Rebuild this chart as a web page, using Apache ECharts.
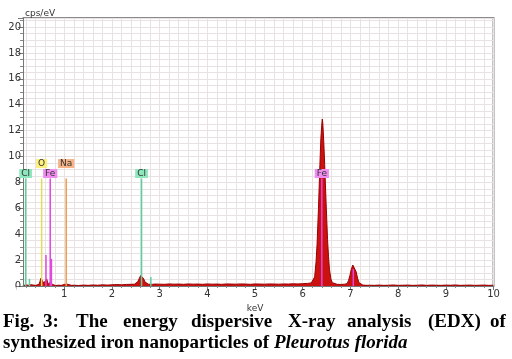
<!DOCTYPE html>
<html>
<head>
<meta charset="utf-8">
<script src="https://cdn.jsdelivr.net/npm/echarts@6/dist/echarts.min.js"></script>
<style>
html,body{margin:0;padding:0;background:#fff;}
#chart{width:512px;height:359px;}
</style>
</head>
<body>
<div id="chart"></div>
<script>
// Spectrum: [energy keV, counts cps/eV]
const spectrum = [
  [0.15,0.05],[0.20,0.08],[0.25,0.06],[0.30,0.10],[0.35,0.07],[0.40,0.05],[0.44,0.06],
  [0.47,0.12],[0.49,0.35],[0.51,0.60],[0.53,0.68],[0.55,0.50],[0.57,0.22],[0.59,0.10],
  [0.61,0.30],[0.63,0.55],[0.65,0.30],[0.67,0.12],[0.69,0.20],[0.71,0.32],[0.73,0.28],
  [0.75,0.12],[0.78,0.06],[0.82,0.04],[0.88,0.06],[0.94,0.05],[1.00,0.12],[1.03,0.17],
  [1.06,0.14],[1.10,0.08],[1.15,0.05],[1.20,0.06],[1.30,0.04],[1.40,0.07],[1.50,0.05],
  [1.60,0.08],[1.70,0.06],[1.80,0.09],[1.90,0.07],[2.00,0.09],[2.10,0.11],[2.20,0.09],
  [2.30,0.12],[2.40,0.13],[2.47,0.14],[2.51,0.18],[2.54,0.32],[2.57,0.56],[2.60,0.80],
  [2.62,0.86],[2.64,0.80],[2.66,0.60],[2.69,0.32],[2.72,0.17],[2.76,0.14],[2.80,0.16],
  [2.85,0.13],[2.90,0.15],[3.00,0.14],[3.10,0.13],[3.20,0.16],[3.30,0.14],[3.40,0.15],
  [3.50,0.13],[3.60,0.16],[3.70,0.14],[3.80,0.15],[3.90,0.13],[4.00,0.16],[4.10,0.14],
  [4.20,0.15],[4.30,0.13],[4.40,0.16],[4.50,0.15],[4.60,0.14],[4.70,0.16],[4.80,0.15],
  [4.90,0.13],[5.00,0.16],[5.10,0.15],[5.20,0.14],[5.30,0.16],[5.40,0.15],[5.50,0.14],
  [5.60,0.16],[5.70,0.15],[5.80,0.17],[5.90,0.16],[6.00,0.18],[6.10,0.20],[6.18,0.24],
  [6.22,0.34],[6.25,0.70],[6.28,1.90],[6.30,3.20],[6.33,6.00],[6.36,9.40],[6.38,11.4],
  [6.40,12.5],[6.41,12.9],[6.42,12.6],[6.44,11.2],[6.46,9.40],[6.49,6.40],[6.52,3.60],
  [6.54,2.30],[6.56,1.30],[6.59,0.55],[6.62,0.26],[6.66,0.16],[6.72,0.13],[6.80,0.12],
  [6.88,0.14],[6.93,0.18],[6.96,0.42],[6.99,0.82],[7.02,1.30],[7.05,1.62],[7.07,1.70],
  [7.09,1.55],[7.12,1.10],[7.15,0.60],[7.18,0.26],[7.21,0.11],[7.26,0.07],[7.35,0.05],
  [7.40,0.06],[7.50,0.05],[7.60,0.07],[7.70,0.05],[7.80,0.06],[7.90,0.08],[8.00,0.05],
  [8.10,0.06],[8.20,0.07],[8.30,0.05],[8.40,0.06],[8.50,0.08],[8.60,0.05],[8.70,0.07],
  [8.80,0.06],[8.90,0.05],[9.00,0.07],[9.10,0.06],[9.20,0.08],[9.30,0.05],[9.40,0.06],
  [9.50,0.07],[9.60,0.05],[9.70,0.06],[9.80,0.07],[9.90,0.05],[10.00,0.06]
];

// Element marker lines
const markerElements = ['Cl','Cl','O','Fe','Fe','Fe','Na','Cl','Cl','Fe','Fe'];
const markerEnergies = [0.19,0.27,0.525,0.705,0.616,0.73,1.04,2.62,2.815,6.40,7.06];
const markerHeights  = [8.3,0.55,8.3,8.3,2.4,2.1,8.3,8.3,0.7,8.3,1.3];

// Element label boxes
const labelElements = ['Cl','O','Fe','Na','Cl','Fe'];
const labelEnergies = [0.19,0.525,0.705,1.04,2.62,6.40];
const labelHeights  = [8.3,8.3,8.3,8.3,8.3,8.3];
const labelRows     = [0,1,0,1,0,0];

// Axis ticks
const xTicks = [1,2,3,4,5,6,7,8,9,10];
const yTicks = [0,2,4,6,8,10,12,14,16,18,20];

const elementNames = ['Cl','O','Fe','Na'];
const lineColors = {Cl:'#5ccf9c', O:'#e2dc5a', Fe:'#e046e0', Na:'#ee9a4c'};
const boxColors  = {Cl:'#8fe8bd', O:'#fdf07e', Fe:'#f08cf0', Na:'#f6b487'};

const chart = echarts.init(document.getElementById('chart'), null, {renderer:'canvas'});

const axisFont = 'DejaVu Sans, sans-serif';
const capFont = 'bold 19px "Liberation Serif", "Times New Roman", serif';

const line1Words = ['Fig.','3:','The','energy','dispersive','X-ray','analysis','(EDX)','of'];
const line1X = [3,43,76,123,191,288,347,428,490];

const graphics = [
  {type:'rect', z:1, shape:{x:14, y:16, width:8.6, height:271}, style:{fill:'#fff'}},
  {type:'rect', z:50, shape:{x:16.3, y:287, width:5.5, height:6}, style:{fill:'#fff'}},
  {type:'text', z:50, x:25, y:14, style:{text:'cps/eV', font:'9px DejaVu Sans, sans-serif', fill:'#333', verticalAlign:'middle'}}
];
line1Words.forEach((w,i)=>{
  graphics.push({type:'text', z:50, x:line1X[i], y:322, style:{text:w, font:capFont, fill:'#000', verticalAlign:'middle'}});
});
graphics.push({type:'text', z:50, x:3, y:343, style:{
  text:'{a|synthesized iron nanoparticles of }{b|Pleurotus florida}',
  verticalAlign:'middle',
  rich:{
    a:{font:capFont, fill:'#000'},
    b:{font:'italic ' + capFont, fill:'#000'}
  }
}});

const option = {
  animation:false,
  backgroundColor:'#fff',
  grid:{left:16.6, right:18.5, top:18, bottom:73, show:true, borderColor:'#8c8c8c', borderWidth:2, z:0},
  xAxis:[
    {type:'value', min:0, max:10, interval:1, z:4,
     name:'keV', nameLocation:'middle', nameGap:15,
     nameTextStyle:{fontSize:9, fontFamily:axisFont, color:'#333'},
     axisLine:{lineStyle:{color:'#777', width:1}},
     axisTick:{length:4, lineStyle:{color:'#777'}},
     minorTick:{show:true, splitNumber:5, length:2, lineStyle:{color:'#888'}},
     axisLabel:{margin:3, fontSize:10, fontFamily:axisFont, color:'#333',
       formatter:v=> xTicks.indexOf(v)>=0 ? String(v) : ''},
     splitLine:{show:false}},
    {type:'value', min:0, max:10, interval:0.2, position:'top', z:0,
     axisLine:{show:false}, axisTick:{show:false}, axisLabel:{show:false},
     splitLine:{show:true, lineStyle:{color:'#e8e2e2', width:1}}}
  ],
  yAxis:[
    {type:'value', min:0, max:20.7, interval:2, offset:-6.4, z:4,
     axisLine:{show:true, lineStyle:{color:'#777', width:1}},
     axisTick:{show:true, length:5, lineStyle:{color:'#777'}},
     minorTick:{show:true, splitNumber:4, length:3, lineStyle:{color:'#888'}},
     axisLabel:{margin:2, fontSize:10, fontFamily:axisFont, color:'#333',
       formatter:v=> yTicks.indexOf(v)>=0 ? String(v) : ''},
     splitLine:{show:false}},
    {type:'value', min:0, max:20.7, interval:0.5, z:0,
     axisLine:{show:false}, axisTick:{show:false}, axisLabel:{show:false},
     splitLine:{show:true, lineStyle:{color:'#e8e2e2', width:1}}}
  ],
  series:[
    {type:'line', data:spectrum, showSymbol:false, z:2,
     lineStyle:{color:'#9a0000', width:1},
     areaStyle:{color:'#cc1111', opacity:1}},
    {type:'custom', z:3, clip:false,
     data: markerEnergies.map((e,i)=>[e, markerHeights[i], elementNames.indexOf(markerElements[i])]),
     renderItem:(params, api)=>{
       const x = api.value(0), h = api.value(1), el = elementNames[api.value(2)];
       const p0 = api.coord([x,0]), p1 = api.coord([x,h]);
       return {type:'line', shape:{x1:p0[0], y1:p0[1], x2:p1[0], y2:p1[1]},
               style:{stroke:lineColors[el], lineWidth:1.5}};
     }},
    {type:'custom', z:5, clip:false,
     data: labelEnergies.map((e,i)=>[e, labelHeights[i], elementNames.indexOf(labelElements[i]), labelRows[i]]),
     renderItem:(params, api)=>{
       const x = api.value(0), h = api.value(1), el = elementNames[api.value(2)], row = api.value(3);
       const p = api.coord([x,h]);
       return {type:'text', x:p[0], y:p[1] - 5 - row*10,
               style:{text:el, font:'9px DejaVu Sans, sans-serif', fill:'#333',
                      align:'center', verticalAlign:'middle',
                      backgroundColor:boxColors[el], padding:[0,2,0,2]}};
     }}
  ],
  graphic: graphics
};
chart.setOption(option);
</script>
</body>
</html>
